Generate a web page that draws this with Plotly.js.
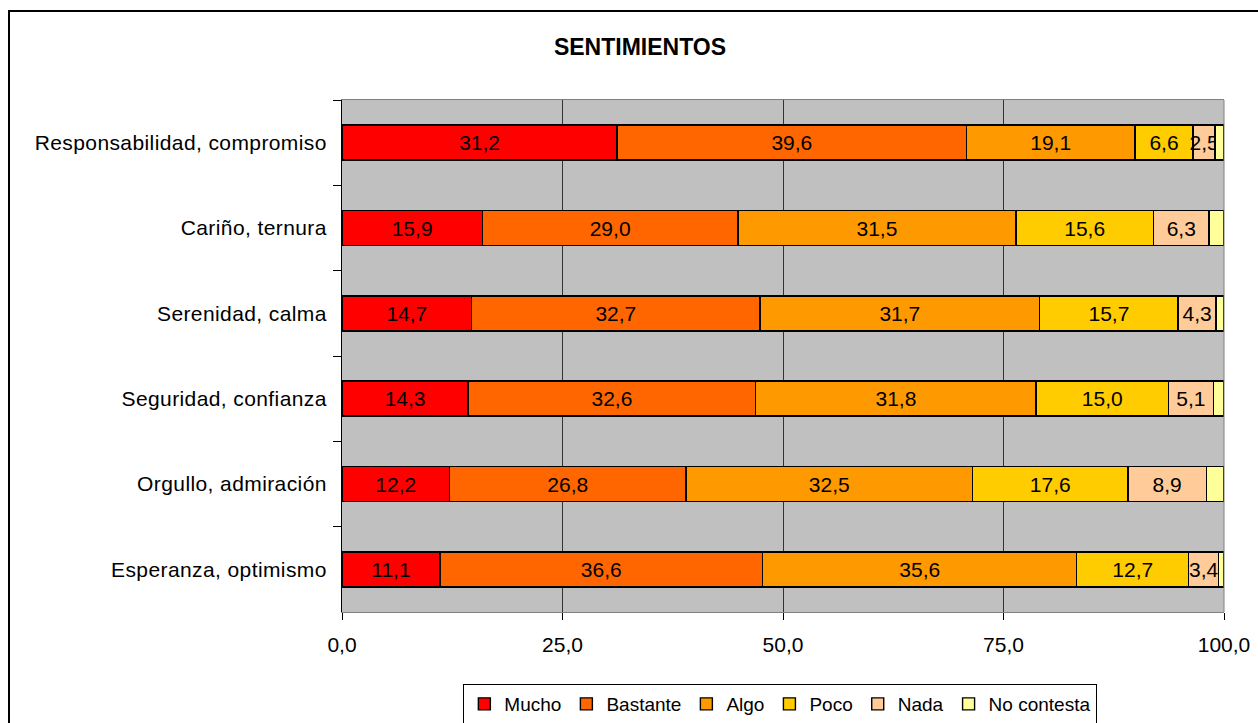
<!DOCTYPE html>
<html>
<head>
<meta charset="utf-8">
<script src="https://cdn.plot.ly/plotly-3.0.1.min.js"></script>
<style>
  html, body { margin: 0; padding: 0; background: #fff; }
  #chart { width: 1258px; height: 723px; }
  .ytick text { letter-spacing: 0.4px; }
</style>
</head>
<body>
<div id="chart"></div>
<script>
const categories = [
  "Responsabilidad, compromiso",
  "Cariño, ternura",
  "Serenidad, calma",
  "Seguridad, confianza",
  "Orgullo, admiración",
  "Esperanza, optimismo"
];
const seriesNames = ["Mucho", "Bastante", "Algo", "Poco", "Nada", "No contesta"];
const mucho      = [31.2, 15.9, 14.7, 14.3, 12.2, 11.1];
const bastante   = [39.6, 29.0, 32.7, 32.6, 26.8, 36.6];
const algo       = [19.1, 31.5, 31.7, 31.8, 32.5, 35.6];
const poco       = [6.6, 15.6, 15.7, 15.0, 17.6, 12.7];
const nada       = [2.5, 6.3, 4.3, 5.1, 8.9, 3.4];
const noContesta = [1.0, 1.7, 0.9, 1.2, 2.0, 0.6];
const xTicks = [0, 25, 50, 75, 100];

const seriesValues = [mucho, bastante, algo, poco, nada, noContesta];
const colors = ["#FF0000", "#FF6600", "#FF9900", "#FFCC00", "#FFCC99", "#FFFF99"];
const showLabels = [true, true, true, true, true, false];

const FONT = "Liberation Sans, Arial, sans-serif";

const traces = seriesNames.map((name, i) => ({
  type: "bar",
  orientation: "h",
  name: name,
  y: categories,
  x: seriesValues[i],
  marker: { color: colors[i], line: { color: "#000000", width: 1.4 } },
  texttemplate: showLabels[i] ? "%{x:.1f}" : "",
  textposition: showLabels[i] ? "inside" : "none",
  insidetextanchor: "middle",
  textangle: 0,
  constraintext: "none",
  cliponaxis: false,
  textfont: { family: FONT, size: 21, color: "#000000" },
  hoverinfo: "none"
}));

const layout = {
  width: 1258,
  height: 723,
  separators: ",.",
  barmode: "stack",
  bargap: 0.59,
  paper_bgcolor: "#FFFFFF",
  plot_bgcolor: "#C0C0C0",
  font: { family: FONT, size: 21, color: "#000000" },
  margin: { l: 342, r: 34, t: 100, b: 111, autoexpand: false },
  title: {
    text: "<b>SENTIMIENTOS</b>",
    font: { family: FONT, size: 23, color: "#000000" },
    x: 640 / 1258, xref: "container", xanchor: "center",
    y: 1 - 47 / 723, yref: "container", yanchor: "middle"
  },
  xaxis: {
    range: [0, 100],
    tickvals: xTicks,
    tickformat: ".1f",
    ticks: "outside",
    ticklen: 7,
    tickcolor: "#000000",
    tickwidth: 1,
    ticklabelstandoff: 7,
    showgrid: true,
    gridcolor: "#333333",
    gridwidth: 1,
    zeroline: false,
    showline: true,
    linecolor: "#808080",
    linewidth: 1,
    mirror: true,
    fixedrange: true,
    tickfont: { family: FONT, size: 21, color: "#000000" }
  },
  yaxis: {
    type: "category",
    categoryorder: "array",
    categoryarray: categories,
    autorange: "reversed",
    tickson: "boundaries",
    ticks: "outside",
    ticklen: 8,
    tickcolor: "#000000",
    tickwidth: 1,
    ticklabelstandoff: 10,
    showgrid: false,
    zeroline: false,
    showline: true,
    linecolor: "#000000",
    linewidth: 1,
    fixedrange: true,
    tickfont: { family: FONT, size: 21, color: "#000000" }
  },
  legend: {
    orientation: "h",
    x: 0.497, xanchor: "center",
    y: -0.1406, yanchor: "top",
    bgcolor: "#FFFFFF",
    bordercolor: "#000000",
    borderwidth: 1,
    traceorder: "normal",
    font: { family: FONT, size: 19, color: "#000000" },
    itemclick: false,
    itemdoubleclick: false
  },
  shapes: [
    { type: "line", xref: "paper", yref: "paper", x0: 1, x1: 1, y0: 0, y1: 1,
      line: { color: "#808080", width: 1 }, layer: "above" },
    { type: "rect", xref: "paper", yref: "paper",
      x0: (9 - 342) / 882, x1: (1275 - 342) / 882,
      y0: -(740 - 612) / 512, y1: 1 + (100 - 11) / 512,
      line: { color: "#000000", width: 2 }, fillcolor: "rgba(0,0,0,0)", layer: "above" }
  ],
  showlegend: true
};

Plotly.newPlot("chart", traces, layout, { displayModeBar: false, staticPlot: true });
</script>
</body>
</html>
